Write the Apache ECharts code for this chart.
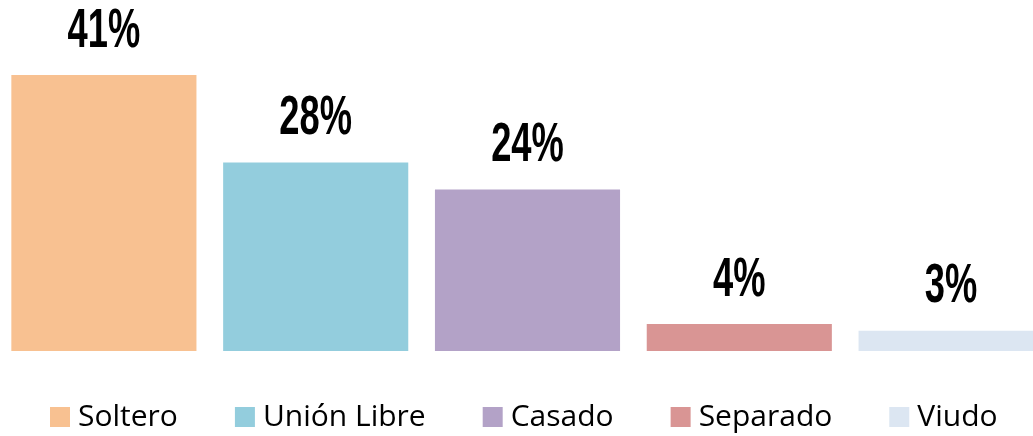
<!DOCTYPE html>
<html>
<head>
<meta charset="utf-8">
<script src="https://cdn.jsdelivr.net/npm/echarts@6/dist/echarts.min.js"></script>
<style>
  html, body { margin: 0; padding: 0; background: #fff; }
  #chart { width: 1033px; height: 436px; }
</style>
</head>
<body>
<div id="chart"></div>
<script>
const categories = ["Soltero", "Unión Libre", "Casado", "Separado", "Viudo"];
const values = [41, 28, 24, 4, 3];
const colors = ["#F8C191", "#93CDDD", "#B3A2C7", "#D99594", "#DCE6F2"];

const chart = echarts.init(document.getElementById("chart"));

// one series per category so the legend gets one coloured entry each
const series = categories.map((name, i) => ({
  name: name,
  type: "bar",
  barGap: "-100%",
  barWidth: "87.4%",
  itemStyle: { color: colors[i] },
  data: values.map((v, j) => (j === i ? v : null)),
}));

// value labels: a custom series so the text can be squeezed like a condensed face
series.push({
  name: "labels",
  type: "custom",
  clip: false,
  z: 5,
  silent: true,
  encode: { x: 0, y: 1 },
  data: values.map((v, i) => [i, v]),
  renderItem: (params, api) => {
    const pt = api.coord([api.value(0), api.value(1)]);
    return {
      type: "text",
      x: pt[0],
      y: pt[1] - 16,
      scaleX: 0.66,
      style: {
        text: api.value(1) + "%",
        fill: "#000",
        font: "bold 55px 'Liberation Sans', Arial, sans-serif",
        align: "center",
        verticalAlign: "bottom",
      },
    };
  },
});

const option = {
  animation: false,
  grid: { left: -2, top: 75, width: 1059, height: 276, outerBoundsMode: "none" },
  xAxis: {
    type: "category",
    data: categories,
    show: false,
  },
  yAxis: {
    type: "value",
    min: 0,
    max: 41,
    show: false,
  },
  legend: {
    left: 50,
    top: 402,
    padding: 0,
    itemWidth: 20,
    itemHeight: 20,
    itemGap: 57,
    icon: "rect",
    textStyle: {
      fontFamily: "'Open Sans', 'Noto Sans', sans-serif",
      fontSize: 30,
      color: "#000",
      padding: [0, 0, 0, 3],
    },
    data: categories,
  },
  series: series,
};

chart.setOption(option);
</script>
</body>
</html>
